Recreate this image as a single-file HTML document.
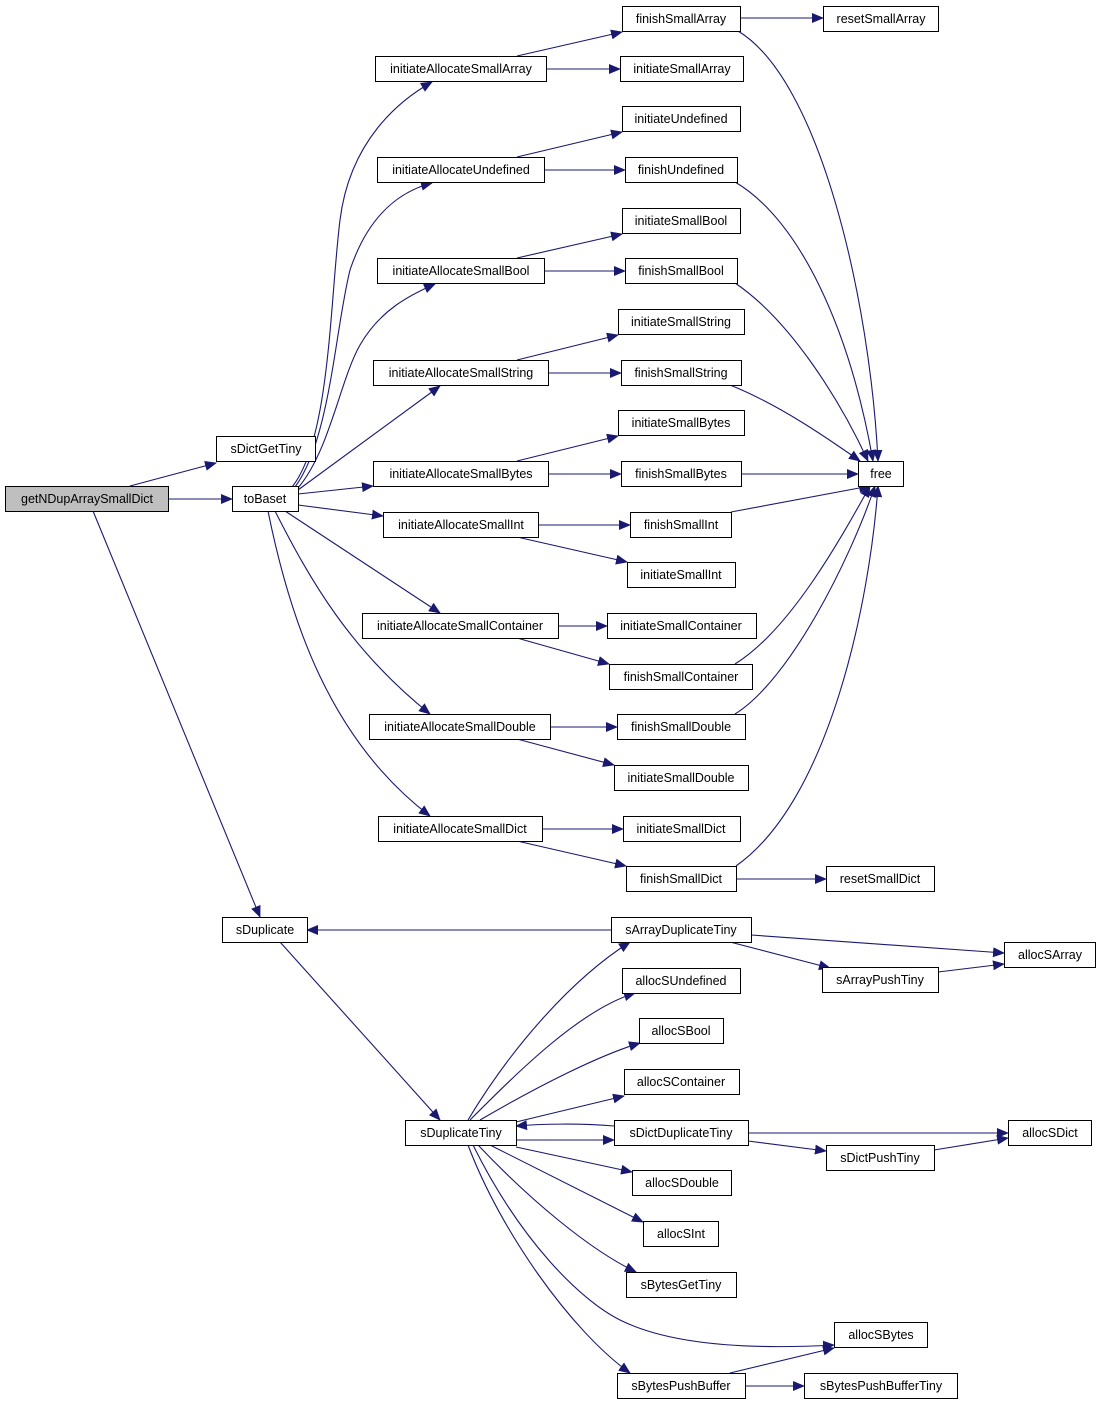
<!DOCTYPE html>
<html><head><meta charset="utf-8"><style>
html,body{margin:0;padding:0;background:#fff;}
svg{display:block;}
text{font-family:"Liberation Sans",sans-serif;font-size:12.5px;fill:#000;}
</style></head><body>
<svg width="1100" height="1405" viewBox="0 0 1100 1405" xmlns="http://www.w3.org/2000/svg">
<defs><marker id="a" markerWidth="12" markerHeight="10" refX="11" refY="5" orient="auto" markerUnits="userSpaceOnUse"><path d="M0,0 L12,5 L0,10 Z" fill="#191970"/></marker></defs>
<g fill="none" stroke="#191970" stroke-width="1.1" marker-end="url(#a)">
<path d="M130,486 L216,463"/><path d="M168,499 L232,499"/><path d="M93,511 L260,917"/>
<path d="M280,942 L440,1120"/><path d="M611,930 L307,930"/>
<path d="M292,487 C330,440 330,300 340,220 C350,140 400,100 432,82"/>
<path d="M295,487 C330,440 335,330 350,270 C370,210 405,190 432,183"/>
<path d="M298,488 C330,450 340,380 360,345 C380,310 410,295 435,284"/>
<path d="M298,490 L440,386"/><path d="M298,494 L373,486"/><path d="M298,505 L383,516"/>
<path d="M285,511 L440,613"/>
<path d="M275,511 C310,580 350,650 430,714"/>
<path d="M268,511 C290,620 330,740 430,816"/>
<path d="M517,56 L622,32"/><path d="M546,69 L620,69"/><path d="M740,18 L823,18"/>
<path d="M517,157 L622,132"/><path d="M544,170 L625,170"/>
<path d="M517,258 L622,234"/><path d="M544,271 L625,271"/>
<path d="M517,360 L618,335"/><path d="M548,373 L621,373"/>
<path d="M517,461 L618,436"/><path d="M548,474 L621,474"/>
<path d="M538,525 L630,525"/><path d="M517,537 L627,562"/>
<path d="M558,626 L607,626"/><path d="M517,638 L609,664"/>
<path d="M550,727 L617,727"/><path d="M517,739 L614,765"/>
<path d="M542,829 L623,829"/><path d="M517,841 L626,866"/>
<path d="M736,879 L826,879"/>
<path d="M738,31 C820,80 870,300 878,461"/>
<path d="M735,182 C800,220 850,330 873,461"/>
<path d="M735,283 C790,320 840,400 868,461"/>
<path d="M730,385 C780,405 830,440 860,461"/>
<path d="M741,474 L858,474"/>
<path d="M731,512 L870,486"/>
<path d="M735,664 C790,630 840,540 870,486"/>
<path d="M735,714 C790,680 850,560 875,486"/>
<path d="M736,866 C830,800 870,600 878,486"/>
<path d="M468,1120 C510,1050 570,980 630,942"/>
<path d="M470,1120 C520,1070 580,1010 635,993"/>
<path d="M480,1120 C540,1085 600,1055 640,1043"/>
<path d="M516,1122 L624,1096"/>
<path d="M516,1140 L614,1140"/><path d="M614,1126 C580,1123 540,1124 516,1126"/>
<path d="M516,1147 L632,1172"/>
<path d="M490,1145 L643,1222"/>
<path d="M478,1145 C530,1200 590,1250 636,1272"/>
<path d="M473,1145 C520,1240 580,1300 620,1320 C680,1350 780,1348 834,1345"/>
<path d="M468,1145 C500,1230 570,1330 630,1373"/>
<path d="M730,1373 L834,1348"/><path d="M745,1386 L804,1386"/>
<path d="M751,935 L1004,953"/><path d="M730,942 L830,968"/><path d="M938,972 L1004,964"/>
<path d="M748,1133 L1008,1133"/><path d="M748,1141 L826,1151"/><path d="M934,1150 L1008,1138"/>
</g>
<g stroke="#000" stroke-width="1" fill="#fff">
<rect x="5.5" y="486.5" width="163" height="25" fill="#bfbfbf"/>
<rect x="216.5" y="436.5" width="99" height="25"/>
<rect x="232.5" y="486.5" width="66" height="25"/>
<rect x="222.5" y="917.5" width="85" height="25"/>
<rect x="375.5" y="56.5" width="171" height="25"/>
<rect x="377.5" y="157.5" width="167" height="25"/>
<rect x="377.5" y="258.5" width="167" height="25"/>
<rect x="373.5" y="360.5" width="175" height="25"/>
<rect x="373.5" y="461.5" width="175" height="25"/>
<rect x="383.5" y="512.5" width="155" height="25"/>
<rect x="362.5" y="613.5" width="196" height="25"/>
<rect x="369.5" y="714.5" width="181" height="25"/>
<rect x="378.5" y="816.5" width="164" height="25"/>
<rect x="622.5" y="6.5" width="118" height="25"/>
<rect x="620.5" y="56.5" width="123" height="25"/>
<rect x="823.5" y="6.5" width="115" height="25"/>
<rect x="622.5" y="106.5" width="118" height="25"/>
<rect x="625.5" y="157.5" width="112" height="25"/>
<rect x="622.5" y="208.5" width="118" height="25"/>
<rect x="625.5" y="258.5" width="112" height="25"/>
<rect x="618.5" y="309.5" width="126" height="25"/>
<rect x="621.5" y="360.5" width="120" height="25"/>
<rect x="618.5" y="410.5" width="126" height="25"/>
<rect x="621.5" y="461.5" width="120" height="25"/>
<rect x="858.5" y="461.5" width="45" height="25"/>
<rect x="630.5" y="512.5" width="101" height="25"/>
<rect x="627.5" y="562.5" width="108" height="25"/>
<rect x="607.5" y="613.5" width="149" height="25"/>
<rect x="609.5" y="664.5" width="143" height="25"/>
<rect x="617.5" y="714.5" width="128" height="25"/>
<rect x="614.5" y="765.5" width="134" height="25"/>
<rect x="623.5" y="816.5" width="117" height="25"/>
<rect x="626.5" y="866.5" width="110" height="25"/>
<rect x="826.5" y="866.5" width="108" height="25"/>
<rect x="611.5" y="917.5" width="140" height="25"/>
<rect x="1004.5" y="942.5" width="91" height="25"/>
<rect x="822.5" y="967.5" width="116" height="25"/>
<rect x="622.5" y="968.5" width="118" height="25"/>
<rect x="639.5" y="1018.5" width="84" height="25"/>
<rect x="624.5" y="1069.5" width="115" height="25"/>
<rect x="405.5" y="1120.5" width="111" height="25"/>
<rect x="614.5" y="1120.5" width="134" height="25"/>
<rect x="1008.5" y="1120.5" width="83" height="25"/>
<rect x="826.5" y="1145.5" width="108" height="25"/>
<rect x="632.5" y="1170.5" width="99" height="25"/>
<rect x="643.5" y="1221.5" width="75" height="25"/>
<rect x="626.5" y="1272.5" width="110" height="25"/>
<rect x="834.5" y="1322.5" width="93" height="25"/>
<rect x="617.5" y="1373.5" width="128" height="25"/>
<rect x="804.5" y="1373.5" width="153" height="25"/>
</g>
<g text-anchor="middle">
<text x="87" y="503">getNDupArraySmallDict</text>
<text x="266" y="453">sDictGetTiny</text>
<text x="265" y="503">toBaset</text>
<text x="265" y="934">sDuplicate</text>
<text x="461" y="73">initiateAllocateSmallArray</text>
<text x="461" y="174">initiateAllocateUndefined</text>
<text x="461" y="275">initiateAllocateSmallBool</text>
<text x="461" y="377">initiateAllocateSmallString</text>
<text x="461" y="478">initiateAllocateSmallBytes</text>
<text x="461" y="529">initiateAllocateSmallInt</text>
<text x="460" y="630">initiateAllocateSmallContainer</text>
<text x="460" y="731">initiateAllocateSmallDouble</text>
<text x="460" y="833">initiateAllocateSmallDict</text>
<text x="681" y="23">finishSmallArray</text>
<text x="682" y="73">initiateSmallArray</text>
<text x="881" y="23">resetSmallArray</text>
<text x="681" y="123">initiateUndefined</text>
<text x="681" y="174">finishUndefined</text>
<text x="681" y="225">initiateSmallBool</text>
<text x="681" y="275">finishSmallBool</text>
<text x="681" y="326">initiateSmallString</text>
<text x="681" y="377">finishSmallString</text>
<text x="681" y="427">initiateSmallBytes</text>
<text x="681" y="478">finishSmallBytes</text>
<text x="881" y="478">free</text>
<text x="681" y="529">finishSmallInt</text>
<text x="681" y="579">initiateSmallInt</text>
<text x="681" y="630">initiateSmallContainer</text>
<text x="681" y="681">finishSmallContainer</text>
<text x="681" y="731">finishSmallDouble</text>
<text x="681" y="782">initiateSmallDouble</text>
<text x="681" y="833">initiateSmallDict</text>
<text x="681" y="883">finishSmallDict</text>
<text x="880" y="883">resetSmallDict</text>
<text x="681" y="934">sArrayDuplicateTiny</text>
<text x="1050" y="959">allocSArray</text>
<text x="880" y="984">sArrayPushTiny</text>
<text x="681" y="985">allocSUndefined</text>
<text x="681" y="1035">allocSBool</text>
<text x="681" y="1086">allocSContainer</text>
<text x="461" y="1137">sDuplicateTiny</text>
<text x="681" y="1137">sDictDuplicateTiny</text>
<text x="1050" y="1137">allocSDict</text>
<text x="880" y="1162">sDictPushTiny</text>
<text x="682" y="1187">allocSDouble</text>
<text x="681" y="1238">allocSInt</text>
<text x="681" y="1289">sBytesGetTiny</text>
<text x="881" y="1339">allocSBytes</text>
<text x="681" y="1390">sBytesPushBuffer</text>
<text x="881" y="1390">sBytesPushBufferTiny</text>
</g>
</svg>
</body></html>
